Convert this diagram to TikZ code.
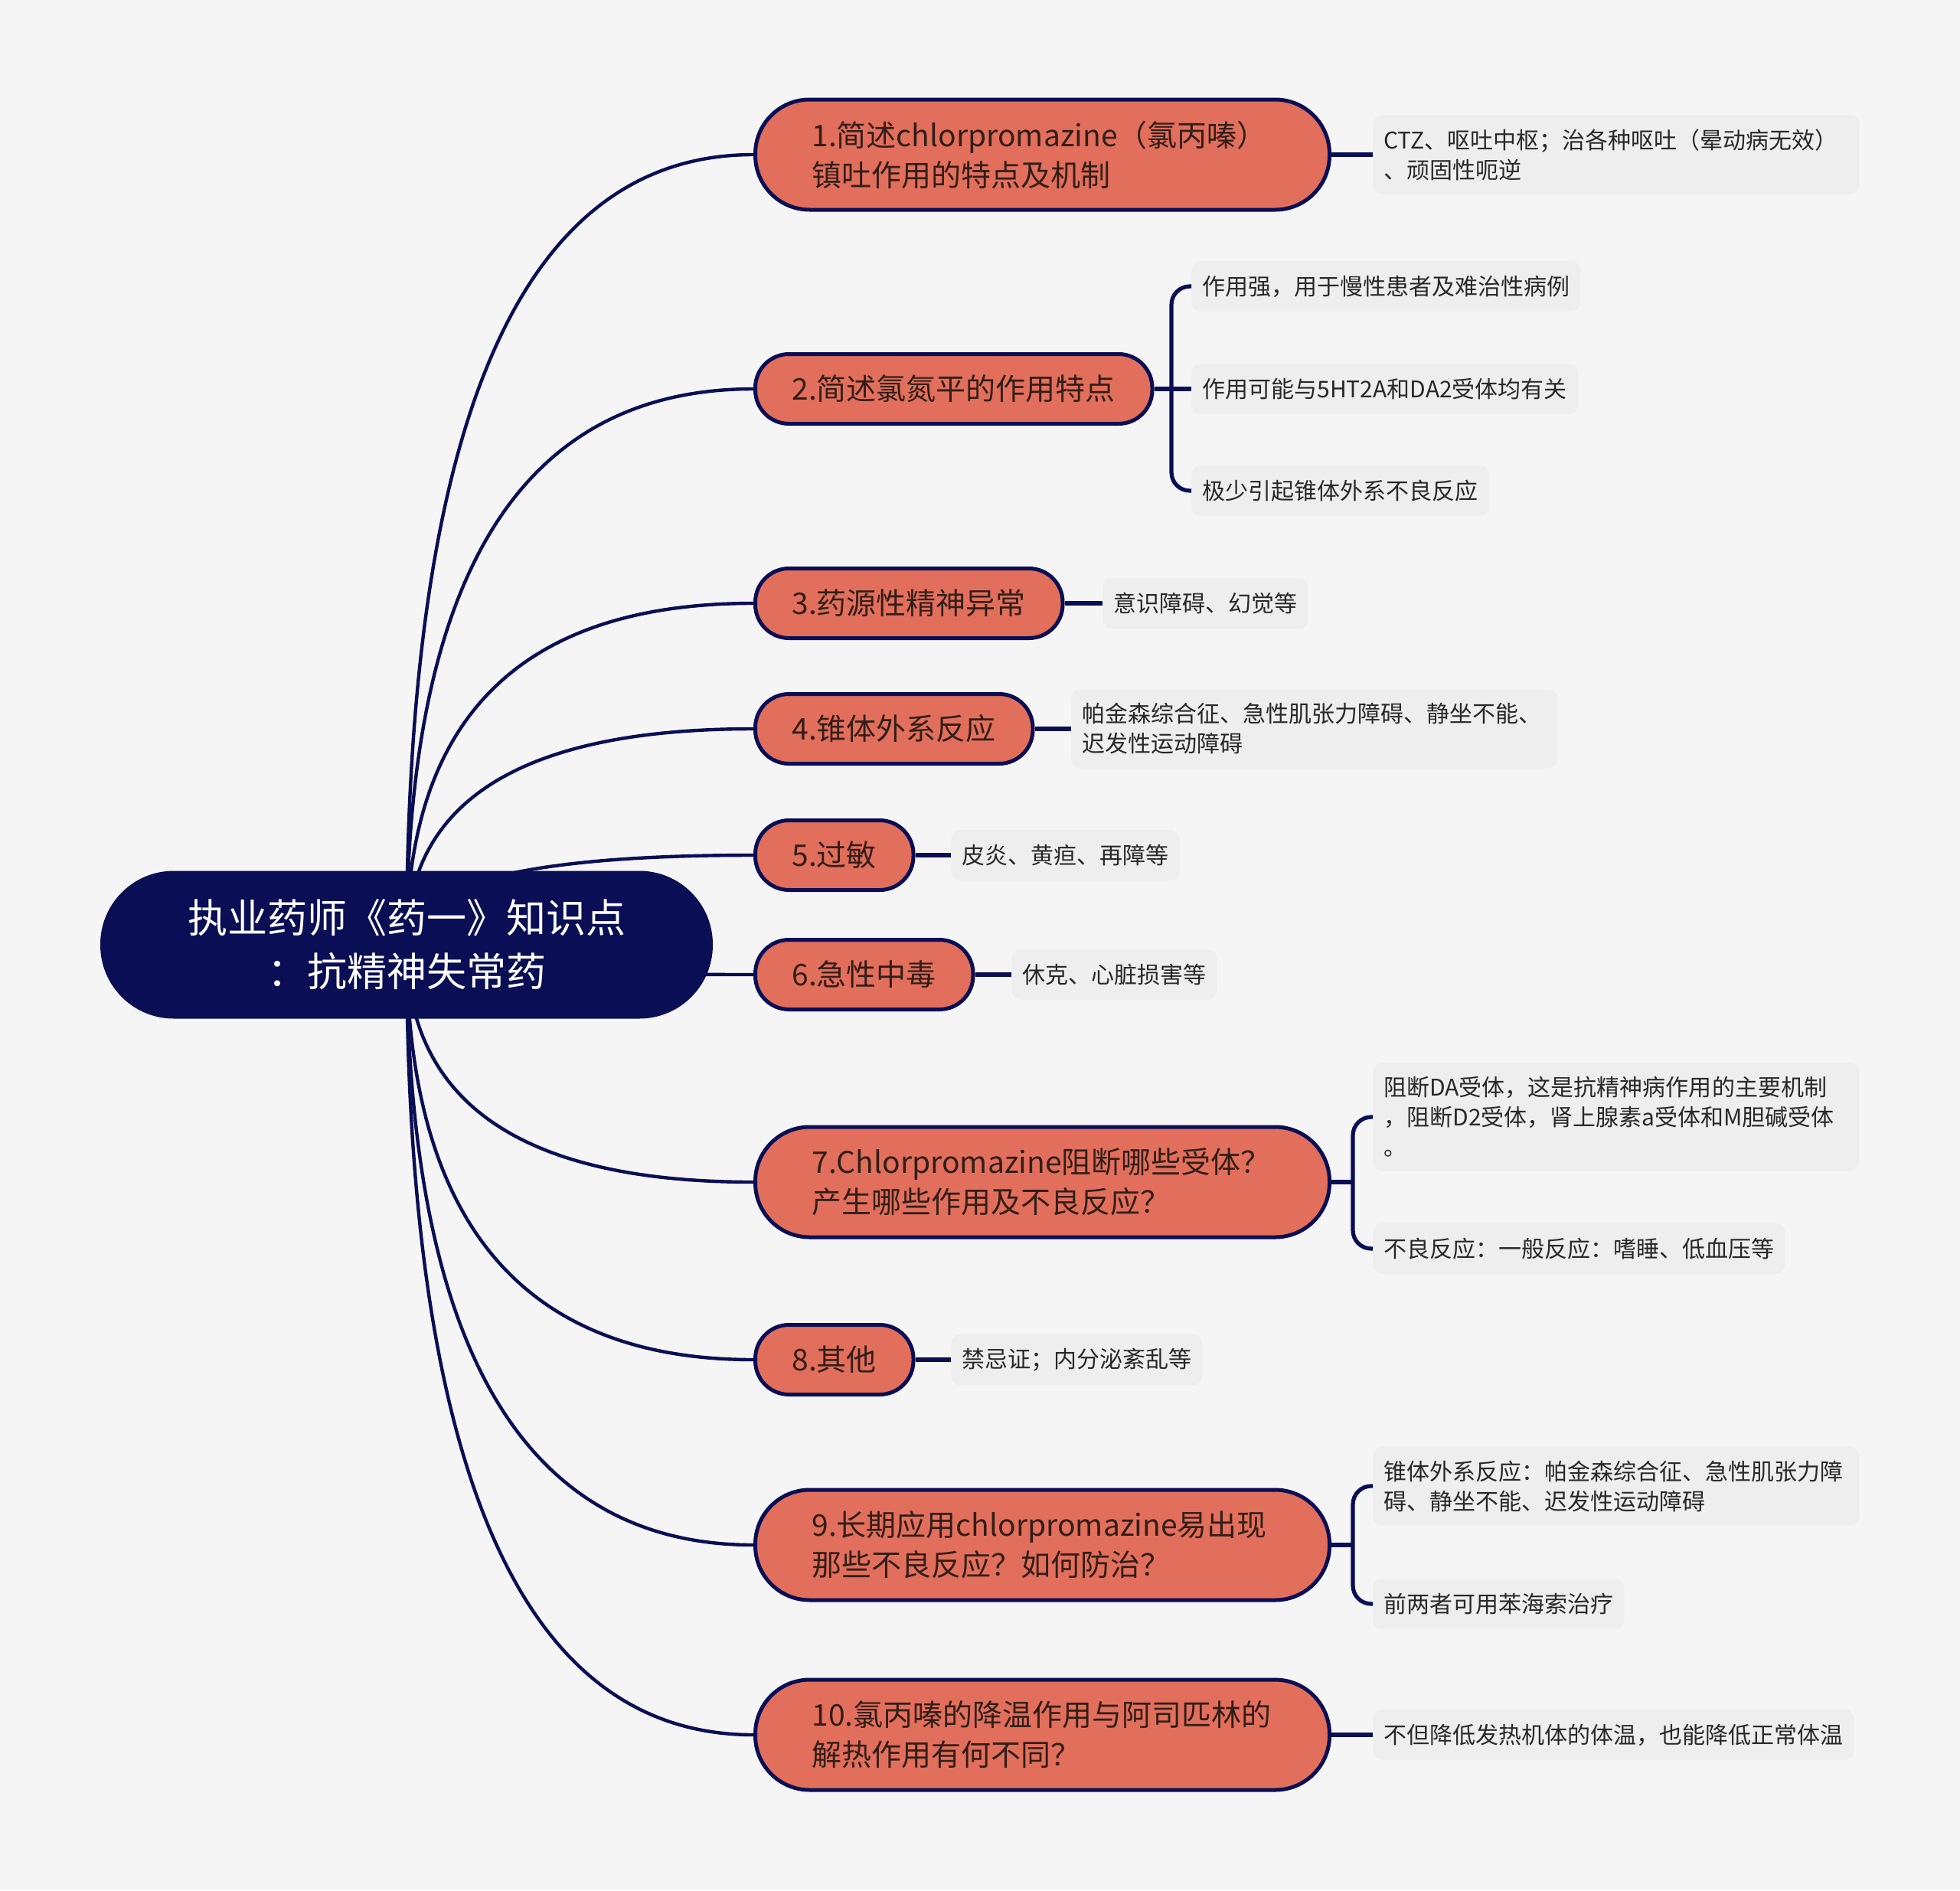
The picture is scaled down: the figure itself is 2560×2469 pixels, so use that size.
\documentclass[tikz,border=0pt]{standalone}
\usepackage{fontspec}
\setmainfont{Noto Sans CJK SC}
\usetikzlibrary{calc}
\pgfdeclarelayer{paper}
\pgfdeclarelayer{lines}
\pgfsetlayers{paper,lines,main}

\begin{document}
\begin{tikzpicture}[x=0.5pt,y=-0.5pt,
  stem/.style={draw=navy,line width=2.2pt},
  twig/.style={draw=navy,line width=2.6pt,rounded corners=12pt},
  hub/.style={fill=navy,text=white,rounded corners=48pt,minimum width=400pt,minimum height=96.5pt,align=center,font=\fontsize{26}{35}\selectfont},
  topic/.style={draw=navy,fill=coral,line width=2.5pt,text=bark,anchor=west,align=left,font=\fontsize{19.5}{26}\selectfont},
  wide/.style={topic,text width=301pt,inner xsep=37pt,minimum height=72pt,rounded corners=35.5pt},
  slim/.style={topic,inner xsep=24pt,minimum height=45.5pt,rounded corners=22pt},
  note/.style={fill=leaf,text=ink,anchor=west,align=left,rounded corners=6pt,inner xsep=7pt,inner ysep=9pt,minimum height=33pt,font=\fontsize{15}{19.5}\selectfont},
  longnote/.style={note,text width=303.5pt}]
\definecolor{sheet}{RGB}{245,245,245}
\definecolor{navy}{RGB}{10,14,84}
\definecolor{coral}{RGB}{226,111,92}
\definecolor{bark}{RGB}{50,30,24}
\definecolor{leaf}{RGB}{238,238,238}
\definecolor{ink}{RGB}{40,40,40}
\begin{pgfonlayer}{paper}
\fill[sheet] (0,0) rectangle (2560,2469);
\end{pgfonlayer}
\node[hub] (root) at (531,1234) {执业药师《药一》知识点\\：抗精神失常药};
\node[wide] (b1) at (984,202) {1.简述chlorpromazine（氯丙嗪）\\镇吐作用的特点及机制};
\node[slim] (b2) at (984,508) {2.简述氯氮平的作用特点};
\node[slim] (b3) at (984,788) {3.药源性精神异常};
\node[slim] (b4) at (984,952) {4.锥体外系反应};
\node[slim] (b5) at (984,1117) {5.过敏};
\node[slim] (b6) at (984,1273) {6.急性中毒};
\node[wide] (b7) at (984,1544) {7.Chlorpromazine阻断哪些受体？\\产生哪些作用及不良反应？};
\node[slim] (b8) at (984,1776) {8.其他};
\node[wide] (b9) at (984,2018) {9.长期应用chlorpromazine易出现\\那些不良反应？如何防治？};
\node[wide] (b10) at (984,2266) {10.氯丙嗪的降温作用与阿司匹林的\\解热作用有何不同？};
\node[longnote] (l1) at (1793,202) {CTZ、呕吐中枢；治各种呕吐（晕动病无效）\\、顽固性呃逆};
\node[note] (l2a) at (1556,374) {作用强，用于慢性患者及难治性病例};
\node[note] (l2b) at (1556,508) {作用可能与5HT2A和DA2受体均有关};
\node[note] (l2c) at (1556,641) {极少引起锥体外系不良反应};
\node[note] (l3) at (1440,788) {意识障碍、幻觉等};
\node[longnote] (l4) at (1399,952) {帕金森综合征、急性肌张力障碍、静坐不能、\\迟发性运动障碍};
\node[note] (l5) at (1242,1117) {皮炎、黄疸、再障等};
\node[note] (l6) at (1321,1273) {休克、心脏损害等};
\node[longnote] (l7a) at (1793,1459) {阻断DA受体，这是抗精神病作用的主要机制\\，阻断D2受体，肾上腺素a受体和M胆碱受体\\。};
\node[note] (l7b) at (1793,1631) {不良反应：一般反应：嗜睡、低血压等};
\node[note] (l8) at (1242,1776) {禁忌证；内分泌紊乱等};
\node[longnote] (l9a) at (1793,1941) {锥体外系反应：帕金森综合征、急性肌张力障\\碍、静坐不能、迟发性运动障碍};
\node[note] (l9b) at (1793,2095) {前两者可用苯海索治疗};
\node[note] (l10) at (1793,2266) {不但降低发热机体的体温，也能降低正常体温};
\coordinate (k2) at (1530,508);
\coordinate (k7) at (1767,1544);
\coordinate (k9) at (1767,2018);
\begin{pgfonlayer}{lines}
\foreach \b in {b1,b2,b3,b4,b5,b6,b7,b8,b9,b10}
  \draw[stem] (root.center) .. controls ($(root.center)!.667!(root.center |- \b.west)$) and ($(\b.west)!.667!(root.center |- \b.west)$) .. (\b.west);
\end{pgfonlayer}
\draw[twig] (b1.east) -- (l1.west);
\draw[twig] (b2.east) -- (l2b.west);
\draw[twig] (l2a.west) -| (k2) |- (l2c.west);
\draw[twig] (b3.east) -- (l3.west);
\draw[twig] (b4.east) -- (l4.west);
\draw[twig] (b5.east) -- (l5.west);
\draw[twig] (b6.east) -- (l6.west);
\draw[twig] (b7.east) -- (k7);
\draw[twig] (l7a.west) -| (k7) |- (l7b.west);
\draw[twig] (b8.east) -- (l8.west);
\draw[twig] (b9.east) -- (k9);
\draw[twig] (l9a.west) -| (k9) |- (l9b.west);
\draw[twig] (b10.east) -- (l10.west);
\end{tikzpicture}
\end{document}
